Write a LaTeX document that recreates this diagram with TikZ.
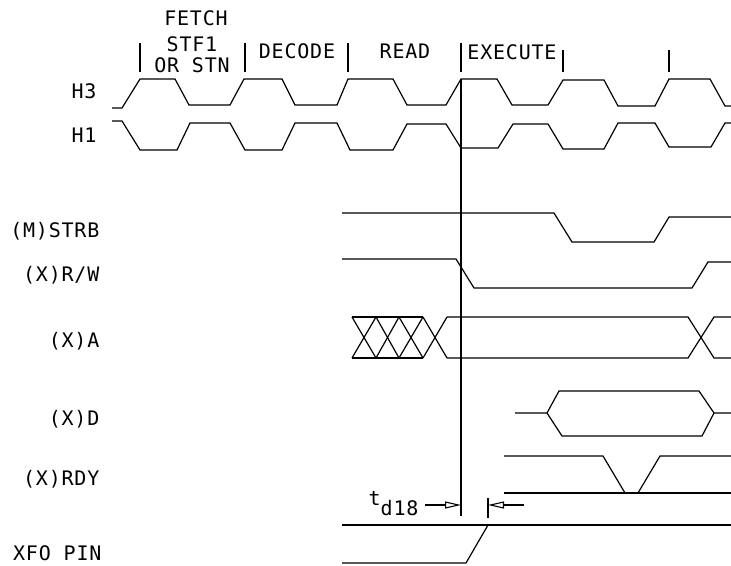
\documentclass[tikz,border=0pt]{standalone}
\usepackage{fontspec}
\newfontfamily\plotfont[LetterSpace=4]{DejaVu Sans Mono}
\usetikzlibrary{arrows.meta}

\begin{document}
\begin{tikzpicture}[x=1pt,y=-1pt,line width=1.2pt,
   sig label/.style={anchor=base east,inner sep=0pt,font=\plotfont\fontsize{20}{20}\selectfont},
   phase label/.style={anchor=base,inner sep=0pt,font=\plotfont\fontsize{20}{20}\selectfont},
   wave/.style={line join=miter},
   dim arrow/.style={line width=1.1pt,-{Triangle[open,length=16pt,width=7pt]}}]
\useasboundingbox (0,0) rectangle (731,565);
\node[phase label] (fetch) at (196,25) {FETCH};
\node[phase label] (stf) at (192,51) {STF1};
\node[phase label] (orstn) at (192,72) {OR STN};
\node[phase label] (decode) at (297,58) {DECODE};
\node[phase label] (read) at (405,58) {READ};
\node[phase label] (execute) at (512,59) {EXECUTE};
\foreach \x/\y in {140/43,245/43,348/43,461/43,563/50,669/50}
   \draw (\x,\y) -- (\x,72);
\node[sig label] (h3) at (97,98) {H3};
\node[sig label] (h1) at (97,142) {H1};
\node[sig label] (strb) at (100,237) {(M)STRB};
\node[sig label] (rw) at (100,281) {(X)R/W};
\node[sig label] (addr) at (100,347) {(X)A};
\node[sig label] (data) at (100,425) {(X)D};
\node[sig label] (rdy) at (100,485) {(X)RDY};
\node[sig label] (xfo) at (102,560) {XFO PIN};
\draw[wave] (112,108) -- (122,108) -- (140,79) -- (175,79) -- (189,105) -- (230,105)
   -- (244,79) -- (282,79) -- (295,105) -- (337,105) -- (348,79) -- (393,79)
   -- (407,105) -- (446,105) -- (461,79) -- (497,79) -- (512,105) -- (548,105)
   -- (563,80) -- (604,80) -- (618,106) -- (655,106) -- (669,79) -- (710,79)
   -- (725,106) -- (731,106);
\draw[wave] (112,121) -- (122,121) -- (140,150) -- (177,150) -- (190,123) -- (230,123)
   -- (245,150) -- (282,150) -- (295,123) -- (337,123) -- (350,150) -- (393,150)
   -- (407,124) -- (446,124) -- (461,148) -- (498,148) -- (513,124) -- (548,124)
   -- (563,149) -- (604,149) -- (618,123) -- (655,123) -- (669,147) -- (711,147)
   -- (725,123) -- (731,123);
\draw[wave] (342,213) -- (554,213) -- (572,242) -- (654,242) -- (669,217) -- (731,217);
\draw[wave] (342,259) -- (456,259) -- (474,288) -- (692,288) -- (708,262) -- (731,262);
\draw (352,317) -- (423,317);
\draw (352,358) -- (423,358);
\foreach \a/\b in {352/376,376/399,399/423,423/447}{
   \draw (\a,317) -- (\b,358);
   \draw (\a,358) -- (\b,317);
}
\draw[wave] (447,317) -- (688,317) -- (714,358) -- (731,358);
\draw[wave] (447,358) -- (688,358) -- (714,317) -- (731,317);
\draw[wave] (515,413) -- (547,413) -- (559,391) -- (699,391) -- (714,413) -- (731,413);
\draw[wave] (547,413) -- (562,436) -- (702,436) -- (714,413);
\draw[wave] (504,456) -- (603,456) -- (625,493);
\draw[wave] (638,493) -- (660,456) -- (731,456);
\draw (504,493) -- (731,493);
\draw (342,525) -- (731,525);
\draw[wave] (342,563) -- (466,563) -- (488,525);
\coordinate (vtop) at (461,79);
\coordinate (vbot) at (461,516);
\draw (vtop) -- (vbot);
\node[sig label] (td) at (419,505) {t\raisebox{-10pt}{d18}};
\coordinate (tdstart) at (425,505);
\coordinate (tdleft) at (461,505);
\coordinate (ticktop) at (488,498);
\coordinate (tickbot) at (488,518);
\coordinate (tdright) at (488,505);
\coordinate (tdend) at (524,505);
\draw (ticktop) -- (tickbot);
\draw[dim arrow] (tdstart) -- (tdleft);
\draw[dim arrow] (tdend) -- (tdright);
\end{tikzpicture}
\end{document}
